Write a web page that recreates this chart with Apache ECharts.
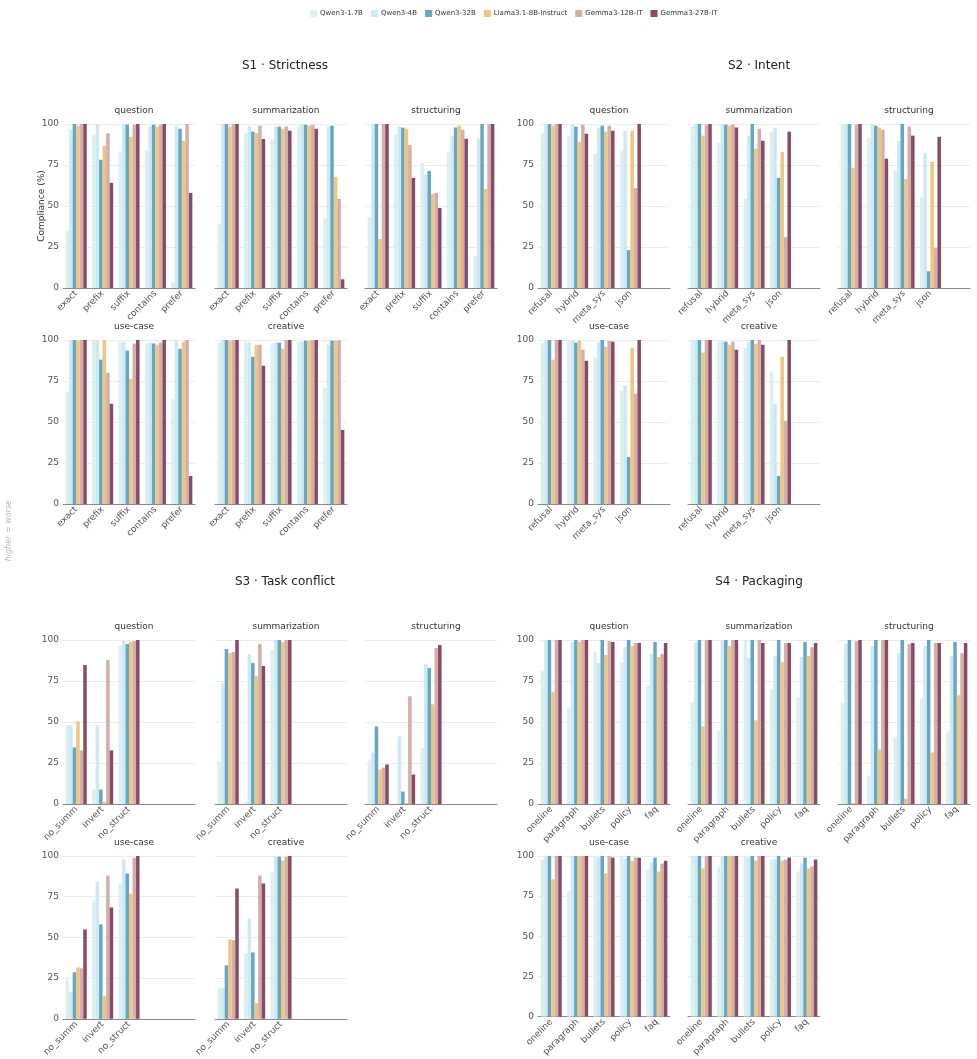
<!DOCTYPE html>
<html><head><meta charset="utf-8">
<script src="https://cdn.jsdelivr.net/npm/echarts@6/dist/echarts.min.js"></script>
<style>html,body{margin:0;padding:0;background:#fff}#c{width:977px;height:1059px}</style>
</head><body><div id="c"></div>
<script>
const MODELS = ['Qwen3-1.7B','Qwen3-4B','Qwen3-32B','Llama3.1-8B-Instruct','Gemma3-12B-IT','Gemma3-27B-IT'];
const COLORS = ['#dcf0f2','#cdeaf3','#65a7c2','#f0c57e','#d3afa9','#884b66'];
const SECTIONS = ['S1 · Strictness','S2 · Intent','S3 · Task conflict','S4 · Packaging'];
const TASKS = ['question','summarization','structuring','use-case','creative'];
const CATS_S1 = ['exact','prefix','suffix','contains','prefer'];
const CATS_S2 = ['refusal','hybrid','meta_sys','json'];
const CATS_S3 = ['no_summ','invert','no_struct'];
const CATS_S4 = ['oneline','paragraph','bullets','policy','faq'];
const Y_TICKS = [0,25,50,75,100];

// rows = categories, columns = models (order of MODELS)
const S1_QUESTION = [[34.7,96.5,100,99,100,100],[93.5,100,78.2,86.7,94.3,64.1],[83,100,99.6,92.2,99.6,100],[83.7,99,99.6,98.4,99.6,100],[3.5,99,97.1,89.8,100,58]];
const S1_SUMMARIZATION = [[39,100,100,98.4,100,100],[94.7,99,95.3,94.5,99,90.8],[90.4,98.4,98.4,97.1,98.4,95.9],[99,100,99.6,99,99.6,97.1],[42.7,98.4,99,67.8,54.3,5.3]];
const S1_STRUCTURING = [[43.3,99.6,100,29.8,100,100],[93.5,98.4,97.8,97.1,87.3,67.1],[76.3,69,71.4,57.3,58,48.8],[83,92.9,97.8,99,96.5,91],[19.4,91,100,60.4,100,100]];
const S1_USECASE = [[68.4,100,100,99.6,100,100],[100,100,88,100,80,61.1],[98.4,99,93.5,76.4,97.8,100],[97.8,98.4,97.8,97.1,98.4,100],[64.2,100,94.7,99,100,17.1]];
const S1_CREATIVE = [[98.4,100,100,99.6,100,100],[99,98.4,89.8,97.1,97.1,84.3],[97.8,98.4,98.4,94.7,100,100],[99,99,99.6,99.6,100,100],[70.9,97.1,99.6,99.6,100,45.2]];

const S2_QUESTION = [[94.7,100,100,99,100,100],[92.9,100,98.4,89.2,99.6,94.1],[81.8,97.8,99,95.3,99,95.9],[83.7,95.9,23.1,95.9,61,100]];
const S2_SUMMARIZATION = [[98.4,100,100,92.9,99.6,100],[88.6,99.6,99.6,99,99.6,97.8],[54.3,92.9,100,84.9,97.1,89.8],[95.3,97.8,67.1,83,31,95.3]];
const S2_STRUCTURING = [[100,100,100,73.3,99.6,100],[91.6,100,99,97.8,96.5,78.8],[72,89.8,100,66.5,98.4,92.9],[55.5,82.4,10.2,76.9,24.3,92.2]];
const S2_USECASE = [[98.4,100,100,88,100,100],[100,100,98.4,99.6,94.1,87.4],[89.2,99,100,95.9,99.6,99],[69,72.1,28.7,95.3,67.2,100]];
const S2_CREATIVE = [[100,100,100,92.3,100,100],[100,100,99,97.1,99,94.1],[95.3,99,100,97.8,100,97.1],[80.7,61.1,17.1,89.8,50.7,100]];

const S3_QUESTION = [[48,48,34.5,50.4,32.7,84.7],[8.8,48,8.8,1.4,87.8,32.7],[97,99.4,97.6,98.8,99.4,100]];
const S3_SUMMARIZATION = [[25.9,73.7,94.5,92,92.7,100],[1.4,91.4,85.9,78,97.6,84.1],[93.9,100,100,98.8,100,100]];
const S3_STRUCTURING = [[26.5,31.4,47.3,21,22.2,24.1],[0,41.2,7.6,0.6,65.7,18],[33.9,85.3,82.9,60.8,95.1,96.9]];
const S3_USECASE = [[24.3,16.3,28.6,31.6,31,54.9],[72.7,84.3,58,13.9,88,68.4],[83.1,97.8,89.2,76.9,99,100]];
const S3_CREATIVE = [[18.8,18.8,32.9,48.8,48.2,80],[40.2,61.6,40.8,9.6,88,83.1],[90.4,99.6,99.6,97.1,99.6,100]];

const S4_QUESTION = [[81,100,100,68.2,100,100],[58.4,98.8,100,98.8,100,100],[92.7,85.9,100,90.8,99.4,98.8],[86.5,95.7,100,96.3,98.2,98.2],[72.4,91.4,98.8,89.6,91.4,98.2]];
const S4_SUMMARIZATION = [[62,98.8,100,47.3,100,100],[44.9,99.4,100,96.3,100,100],[100,89,100,51,100,98.2],[70,90.2,100,86.5,98.2,98.2],[65.1,89.6,98.8,90.2,95.7,98.2]];
const S4_STRUCTURING = [[61.4,97.8,100,0.6,99.4,100],[17.3,96.3,100,33.3,100,100],[40.6,92,100,3.3,97.6,98.2],[64.5,96.3,100,31.4,98.2,98.2],[44.3,90.2,98.8,66.3,92,98.2]];
const S4_USECASE = [[97.8,99.6,100,85.5,100,100],[78.2,100,100,100,100,100],[99.6,99,100,89.2,100,99],[100,98.4,100,97.1,99,99],[91.6,95.9,99,90.4,95.3,97.1]];
const S4_CREATIVE = [[100,100,100,92.2,100,100],[92.9,100,100,100,100,100],[100,99,100,97.1,100,100],[97.8,97.8,100,97.1,97.8,99],[90.4,95.3,99,92.2,93.5,97.8]];

const SECTION_CATS = [CATS_S1, CATS_S2, CATS_S3, CATS_S4];
const SECTION_DATA = [
  [S1_QUESTION,S1_SUMMARIZATION,S1_STRUCTURING,S1_USECASE,S1_CREATIVE],
  [S2_QUESTION,S2_SUMMARIZATION,S2_STRUCTURING,S2_USECASE,S2_CREATIVE],
  [S3_QUESTION,S3_SUMMARIZATION,S3_STRUCTURING,S3_USECASE,S3_CREATIVE],
  [S4_QUESTION,S4_SUMMARIZATION,S4_STRUCTURING,S4_USECASE,S4_CREATIVE]
];

const FONT = 'DejaVu Sans';
const LEFTS = [63,215,365,538,688,838];
const TOPS = [124,340,640,856];
const W = 132, H = 164, SLOTS = 5;

const grids=[], xAxes=[], yAxes=[], series=[], titles=[];
SECTIONS.forEach((s, si) => {
  const colBase = (si % 2) * 3, rowBase = si < 2 ? 0 : 2;
  titles.push({text: s, left: LEFTS[colBase] + (LEFTS[colBase+2] + W - LEFTS[colBase]) / 2, top: TOPS[rowBase] - 69,
    textAlign: 'center', textStyle: {fontFamily: FONT, fontSize: 12, fontWeight: 'normal', color: '#222'}});
  TASKS.forEach((t, ti) => {
    const col = colBase + (ti < 3 ? ti : ti - 3), row = rowBase + (ti < 3 ? 0 : 1);
    const gi = grids.length;
    grids.push({left: LEFTS[col], top: TOPS[row], width: W, height: H, containLabel: false});
    titles.push({text: t, left: LEFTS[col] + W / 2, top: TOPS[row] - 23, textAlign: 'center',
      textStyle: {fontFamily: FONT, fontSize: 9, fontWeight: 'normal', color: '#333'}});
    const cats = SECTION_CATS[si].slice();
    while (cats.length < SLOTS) cats.push('');
    xAxes.push({type: 'category', gridIndex: gi, data: cats,
      axisLine: {lineStyle: {color: '#8a8a8a', width: 1}}, axisTick: {show: false},
      axisLabel: {rotate: 45, fontFamily: FONT, fontSize: 9, color: '#555', margin: 4, interval: 0}});
    const first = (ti === 0 || ti === 3);
    yAxes.push({type: 'value', gridIndex: gi, min: Y_TICKS[0], max: Y_TICKS[Y_TICKS.length-1], interval: 25,
      name: (si === 0 && ti === 0) ? 'Compliance (%)' : '', nameLocation: 'middle', nameGap: 17, nameMoveOverlap: false,
      nameTextStyle: {fontFamily: FONT, fontSize: 9, color: '#333'},
      axisLine: {show: false}, axisTick: {show: false},
      axisLabel: {show: first, fontFamily: FONT, fontSize: 9, color: '#555', margin: 4},
      splitLine: {show: true, lineStyle: {color: '#ececec', width: 1}}});
    const rows = SECTION_DATA[si][ti];
    MODELS.forEach((m, mi) => {
      const d = rows.map(r => r[mi]);
      while (d.length < SLOTS) d.push('-');
      series.push({type: 'bar', name: m, xAxisIndex: gi, yAxisIndex: gi, data: d,
        barGap: '0%', barCategoryGap: '20%', itemStyle: {color: COLORS[mi]}, silent: true, animation: false});
    });
  });
});

const chart = echarts.init(document.getElementById('c'), null, {renderer: 'canvas'});
chart.setOption({
  animation: false,
  backgroundColor: '#fff',
  title: titles,
  legend: {data: MODELS, top: 5, left: 305, itemWidth: 7, itemHeight: 7, itemGap: 8, icon: 'rect',
    textStyle: {fontFamily: FONT, fontSize: 7, color: '#333', padding: [0,0,0,-2]}},
  grid: grids, xAxis: xAxes, yAxis: yAxes, series: series,
  graphic: [{type: 'text', left: 5, top: 500, rotation: Math.PI / 2,
    style: {text: 'higher = worse', fontFamily: FONT, fontSize: 8, fontStyle: 'italic', fill: '#bbb'}}]
});
</script></body></html>
